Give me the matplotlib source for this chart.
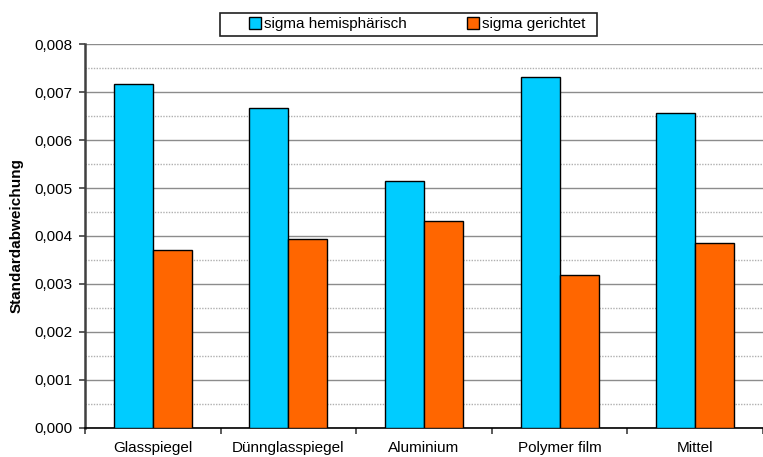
import matplotlib
matplotlib.use("Agg")
import matplotlib.pyplot as plt
from matplotlib.patches import Rectangle
from matplotlib.ticker import FuncFormatter, MultipleLocator, FixedLocator
import numpy as np

plt.rcParams['font.family'] = ['Liberation Sans', 'DejaVu Sans']

# Standardabweichung je Spiegeltyp
categories = ['Glasspiegel', 'Dünnglasspiegel', 'Aluminium', 'Polymer film', 'Mittel']
sigma_hem = [0.00717, 0.00668, 0.00514, 0.00731, 0.00657]
sigma_ger = [0.00370, 0.00394, 0.00432, 0.00318, 0.00386]
series_names = ['sigma hemisphärisch', 'sigma gerichtet']

CYAN = '#00CCFF'
ORANGE = '#FF6600'

W, H = 763, 457
fig = plt.figure(figsize=(W / 100, H / 100), dpi=100)
ax = fig.add_axes([85 / W, (H - 427.5) / H, (W - 85) / W, (427.5 - 44.3) / H])

x = np.arange(len(categories))
bw = 0.2875
b1 = ax.bar(x - bw / 2, sigma_hem, bw, color=CYAN, edgecolor='black', linewidth=1, zorder=3)
b2 = ax.bar(x + bw / 2, sigma_ger, bw, color=ORANGE, edgecolor='black', linewidth=1, zorder=3)

ax.set_xlim(-0.5, len(categories) - 0.5)
ax.set_ylim(0, 0.008)

# y axis: labels every 0.001, extra grid lines at the half steps
ax.yaxis.set_major_locator(MultipleLocator(0.001))
ax.yaxis.set_minor_locator(FixedLocator(np.arange(0.0005, 0.008, 0.001)))
ax.yaxis.set_major_formatter(FuncFormatter(lambda v, p: f'{v:.3f}'.replace('.', ',')))
ax.tick_params(axis='y', which='major', direction='out', length=4, width=1.2,
               color='#404040', pad=5, labelsize=11)
ax.tick_params(axis='y', which='minor', length=0)
ax.grid(axis='y', which='major', color='#8c8c8c', linewidth=1, zorder=0)
ax.grid(axis='y', which='minor', color='#b0b0b0', linewidth=1, linestyle=(0, (1, 1)), zorder=0)

# x axis: ticks between the groups, names under the group centres
ax.xaxis.set_major_locator(FixedLocator(np.arange(-0.5, len(categories), 1.0)))
ax.xaxis.set_major_formatter(FuncFormatter(lambda v, p: ''))
ax.xaxis.set_minor_locator(FixedLocator(x))
ax.set_xticks(x, categories, minor=True)
ax.tick_params(axis='x', which='major', direction='out', length=4, width=1.2, color='#404040')
ax.tick_params(axis='x', which='minor', length=0, pad=10, labelsize=11)

for s in ['top', 'right']:
    ax.spines[s].set_visible(False)
ax.spines['left'].set_color('#404040')
ax.spines['left'].set_linewidth(1.8)
ax.spines['bottom'].set_color('black')
ax.spines['bottom'].set_linewidth(1.2)
ax.set_axisbelow(True)

ax.set_ylabel('Standardabweichung', fontsize=11, fontweight='bold', labelpad=8)

# legend box at the top
fig.patches.append(Rectangle((220 / W, (H - 35.7) / H), (597 - 220) / W, 23 / H,
                             transform=fig.transFigure, facecolor='white',
                             edgecolor='#202020', linewidth=1.2, zorder=5))
fig.legend([b1, b2], series_names, loc='center left',
           bbox_to_anchor=(249 / W, (H - 24) / H), ncol=2, frameon=False,
           fontsize=11, handlelength=0.8, handleheight=0.8, handletextpad=0.2,
           columnspacing=3.9, borderpad=0, borderaxespad=0)

fig.savefig('out.png', dpi=100)
